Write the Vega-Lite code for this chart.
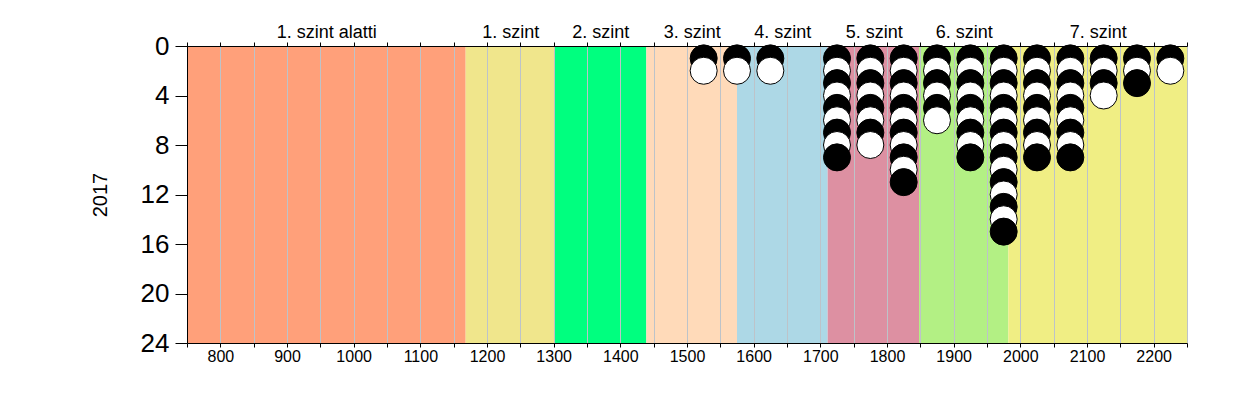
{
  "$schema": "https://vega.github.io/schema/vega-lite/v6.json",
  "width": 1000,
  "height": 297,
  "autosize": {"type": "none"},
  "padding": {"left": 187, "top": 46, "right": 63, "bottom": 52},
  "background": "white",
  "config": {
    "font": "Liberation Sans",
    "view": {"stroke": null},
    "axis": {"labelColor": "black", "titleColor": "black", "domainColor": "black", "tickColor": "black", "labelFont": "Liberation Sans", "titleFont": "Liberation Sans"}
  },
  "datasets": {
    "bands": [
      {"level": "1. szint alatti", "x0": 750, "x1": 1168},
      {"level": "1. szint", "x0": 1168, "x1": 1302},
      {"level": "2. szint", "x0": 1302, "x1": 1439},
      {"level": "3. szint", "x0": 1439, "x1": 1575},
      {"level": "4. szint", "x0": 1575, "x1": 1711},
      {"level": "5. szint", "x0": 1711, "x1": 1848},
      {"level": "6. szint", "x0": 1848, "x1": 1982},
      {"level": "7. szint", "x0": 1982, "x1": 2250}
    ],
    "pts": [
      {"s": 1525, "n": 1, "k": "a"}, {"s": 1525, "n": 2, "k": "b"},
      {"s": 1575, "n": 1, "k": "a"}, {"s": 1575, "n": 2, "k": "b"},
      {"s": 1625, "n": 1, "k": "a"}, {"s": 1625, "n": 2, "k": "b"},
      {"s": 1725, "n": 1, "k": "a"}, {"s": 1725, "n": 2, "k": "b"}, {"s": 1725, "n": 3, "k": "a"}, {"s": 1725, "n": 4, "k": "b"}, {"s": 1725, "n": 5, "k": "a"}, {"s": 1725, "n": 6, "k": "b"}, {"s": 1725, "n": 7, "k": "a"}, {"s": 1725, "n": 8, "k": "b"}, {"s": 1725, "n": 9, "k": "a"},
      {"s": 1775, "n": 1, "k": "a"}, {"s": 1775, "n": 2, "k": "b"}, {"s": 1775, "n": 3, "k": "a"}, {"s": 1775, "n": 4, "k": "b"}, {"s": 1775, "n": 5, "k": "a"}, {"s": 1775, "n": 6, "k": "b"}, {"s": 1775, "n": 7, "k": "a"}, {"s": 1775, "n": 8, "k": "b"},
      {"s": 1825, "n": 1, "k": "a"}, {"s": 1825, "n": 2, "k": "b"}, {"s": 1825, "n": 3, "k": "a"}, {"s": 1825, "n": 4, "k": "b"}, {"s": 1825, "n": 5, "k": "a"}, {"s": 1825, "n": 6, "k": "b"}, {"s": 1825, "n": 7, "k": "a"}, {"s": 1825, "n": 8, "k": "b"}, {"s": 1825, "n": 9, "k": "a"}, {"s": 1825, "n": 10, "k": "b"}, {"s": 1825, "n": 11, "k": "a"},
      {"s": 1875, "n": 1, "k": "a"}, {"s": 1875, "n": 2, "k": "b"}, {"s": 1875, "n": 3, "k": "a"}, {"s": 1875, "n": 4, "k": "b"}, {"s": 1875, "n": 5, "k": "a"}, {"s": 1875, "n": 6, "k": "b"},
      {"s": 1925, "n": 1, "k": "a"}, {"s": 1925, "n": 2, "k": "b"}, {"s": 1925, "n": 3, "k": "a"}, {"s": 1925, "n": 4, "k": "b"}, {"s": 1925, "n": 5, "k": "a"}, {"s": 1925, "n": 6, "k": "b"}, {"s": 1925, "n": 7, "k": "a"}, {"s": 1925, "n": 8, "k": "b"}, {"s": 1925, "n": 9, "k": "a"},
      {"s": 1975, "n": 1, "k": "a"}, {"s": 1975, "n": 2, "k": "b"}, {"s": 1975, "n": 3, "k": "a"}, {"s": 1975, "n": 4, "k": "b"}, {"s": 1975, "n": 5, "k": "a"}, {"s": 1975, "n": 6, "k": "b"}, {"s": 1975, "n": 7, "k": "a"}, {"s": 1975, "n": 8, "k": "b"}, {"s": 1975, "n": 9, "k": "a"}, {"s": 1975, "n": 10, "k": "b"}, {"s": 1975, "n": 11, "k": "a"}, {"s": 1975, "n": 12, "k": "b"}, {"s": 1975, "n": 13, "k": "a"}, {"s": 1975, "n": 14, "k": "b"}, {"s": 1975, "n": 15, "k": "a"},
      {"s": 2025, "n": 1, "k": "a"}, {"s": 2025, "n": 2, "k": "b"}, {"s": 2025, "n": 3, "k": "a"}, {"s": 2025, "n": 4, "k": "b"}, {"s": 2025, "n": 5, "k": "a"}, {"s": 2025, "n": 6, "k": "b"}, {"s": 2025, "n": 7, "k": "a"}, {"s": 2025, "n": 8, "k": "b"}, {"s": 2025, "n": 9, "k": "a"},
      {"s": 2075, "n": 1, "k": "a"}, {"s": 2075, "n": 2, "k": "b"}, {"s": 2075, "n": 3, "k": "a"}, {"s": 2075, "n": 4, "k": "b"}, {"s": 2075, "n": 5, "k": "a"}, {"s": 2075, "n": 6, "k": "b"}, {"s": 2075, "n": 7, "k": "a"}, {"s": 2075, "n": 8, "k": "b"}, {"s": 2075, "n": 9, "k": "a"},
      {"s": 2125, "n": 1, "k": "a"}, {"s": 2125, "n": 2, "k": "b"}, {"s": 2125, "n": 3, "k": "a"}, {"s": 2125, "n": 4, "k": "b"},
      {"s": 2175, "n": 1, "k": "a"}, {"s": 2175, "n": 2, "k": "b"}, {"s": 2175, "n": 3, "k": "a"},
      {"s": 2225, "n": 1, "k": "a"}, {"s": 2225, "n": 2, "k": "b"}
    ]
  },
  "resolve": {"axis": {"x": "independent"}, "scale": {"fill": "independent"}},
  "layer": [
    {
      "data": {"name": "bands"},
      "mark": {"type": "rect"},
      "encoding": {
        "x": {
          "field": "x0", "type": "quantitative",
          "scale": {"domain": [750, 2250], "nice": false, "zero": false},
          "axis": {
            "orient": "top", "title": null, "domain": false, "ticks": false, "grid": false,
            "values": [959, 1235, 1370, 1507, 1643, 1780, 1915, 2116],
            "labelExpr": "['1. szint alatti','1. szint','2. szint','3. szint','4. szint','5. szint','6. szint','7. szint'][indexof([959,1235,1370,1507,1643,1780,1915,2116], datum.value)]",
            "labelFontSize": 18, "labelPadding": 9, "labelBaseline": "alphabetic", "labelFlush": false, "labelOverlap": false
          }
        },
        "x2": {"field": "x1"},
        "fill": {
          "field": "level", "type": "nominal", "legend": null,
          "scale": {
            "domain": ["1. szint alatti", "1. szint", "2. szint", "3. szint", "4. szint", "5. szint", "6. szint", "7. szint"],
            "range": ["#FFA07A", "#F0E68C", "#00FF7F", "#FFDAB9", "#ADD8E6", "#DD90A2", "#B3F084", "#F0EE84"]
          }
        }
      }
    },
    {
      "data": {"name": "pts"},
      "mark": {"type": "point", "shape": "circle", "filled": true, "size": 730, "stroke": "black", "strokeWidth": 1, "opacity": 1, "clip": false},
      "encoding": {
        "x": {
          "field": "s", "type": "quantitative",
          "axis": {
            "orient": "bottom", "title": null, "zindex": 1, "format": "d",
            "values": [750, 800, 850, 900, 950, 1000, 1050, 1100, 1150, 1200, 1250, 1300, 1350, 1400, 1450, 1500, 1550, 1600, 1650, 1700, 1750, 1800, 1850, 1900, 1950, 2000, 2050, 2100, 2150, 2200, 2250],
            "labelExpr": "datum.value % 100 === 0 && datum.value < 2250 ? datum.label : ''",
            "labelFontSize": 16, "labelPadding": 1, "tickSize": 4, "labelFlush": false, "labelOverlap": false,
            "grid": true, "gridColor": "#BDC3C9", "gridWidth": 1, "gridOpacity": 1
          }
        },
        "y": {
          "field": "n", "type": "quantitative",
          "scale": {"domain": [0, 24], "reverse": true, "nice": false, "zero": false},
          "axis": {
            "title": "2017", "titleFontSize": 20, "titleFontWeight": "normal", "titlePadding": 30,
            "values": [0, 4, 8, 12, 16, 20, 24], "labelFontSize": 26, "labelPadding": 6, "tickSize": 12,
            "grid": false, "labelOverlap": false, "labelFlush": false, "zindex": 2
          }
        },
        "fill": {"field": "k", "type": "nominal", "legend": null, "scale": {"domain": ["a", "b"], "range": ["black", "white"]}}
      }
    },
    {
      "data": {"name": "bands"},
      "mark": {"type": "rect", "opacity": 0},
      "encoding": {
        "x": {
          "field": "x0", "type": "quantitative",
          "axis": {
            "orient": "top", "title": null, "labels": false, "grid": false, "tickSize": 4, "zindex": 2,
            "values": [750, 800, 850, 900, 950, 1000, 1050, 1100, 1150, 1200, 1250, 1300, 1350, 1400, 1450, 1500, 1550, 1600, 1650, 1700, 1750, 1800, 1850, 1900, 1950, 2000, 2050, 2100, 2150, 2200, 2250]
          }
        },
        "x2": {"field": "x1"}
      }
    }
  ]
}
